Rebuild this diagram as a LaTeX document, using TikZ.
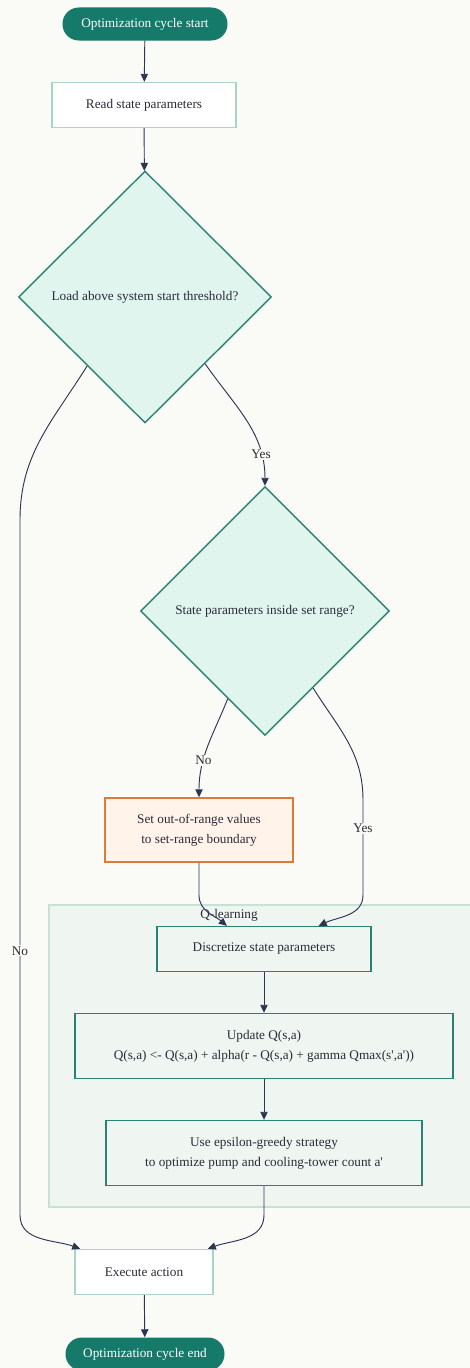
\documentclass[tikz,border=0pt]{standalone}
\usepackage{fontspec}
\setmainfont{Liberation Serif}
\usetikzlibrary{shapes.geometric,arrows.meta}
\definecolor{bgcol}{HTML}{FAFAF6}
\definecolor{pillcol}{HTML}{167A6B}
\definecolor{linecol}{HTML}{2E3552}
\definecolor{txtcol}{HTML}{2B2B38}
\definecolor{tealcol}{HTML}{2A8272}
\definecolor{mintcol}{HTML}{E0F5EE}
\definecolor{palecol}{HTML}{A9D4C6}
\definecolor{orangecol}{HTML}{E07A3A}
\definecolor{peachcol}{HTML}{FFF3EA}
\definecolor{groupcol}{HTML}{EFF5F0}
\definecolor{groupline}{HTML}{C8E0D5}
\newcommand{\tick}{\textquotesingle}
\begin{document}
\begin{tikzpicture}[x=0.3mm,y=0.3mm,
  font=\fontsize{11.3}{17}\selectfont, text=txtcol,
  edge/.style={draw=linecol, line width=0.8pt, -{Triangle[length=2.4mm,width=2.2mm]}},
  lbl/.style={fill=bgcol, inner sep=1pt, text=txtcol},
  pill/.style={rectangle, rounded corners=0.49cm, fill=pillcol, text=white, minimum height=0.99cm},
  plain/.style={rectangle, draw=palecol, fill=white, line width=1.2pt, minimum height=1.35cm},
  task/.style={rectangle, draw=tealcol, fill=groupcol, line width=1.2pt, align=center},
  ask/.style={diamond, draw=tealcol, fill=mintcol, line width=1.2pt, inner sep=0pt}]
\useasboundingbox[fill=bgcol] (0,0) rectangle (470,-1368);

% Q-learning group
\draw[groupline, fill=groupcol, line width=1pt] (49,-905) rectangle (476,-1207);
\node (qlabel) at (229,-915) {Q-learning};

% nodes
\node[pill, minimum width=4.95cm] (start) at (145,-24) {Optimization cycle start};
\node[plain, minimum width=5.52cm] (read) at (144,-105) {Read state parameters};
\node[ask, minimum width=7.59cm, minimum height=7.56cm] (load) at (145,-297) {Load above system start threshold?};
\node[ask, minimum width=7.47cm, minimum height=7.47cm] (range) at (265,-611) {State parameters inside set range?};
\node[rectangle, draw=orangecol, fill=peachcol, line width=1.2pt, align=center,
      minimum width=5.64cm, minimum height=1.92cm] (clamp) at (199,-830)
      {Set out-of-range values\\to set-range boundary};
\node[task, minimum width=6.42cm, minimum height=1.35cm] (disc) at (264,-949) {Discretize state parameters};
\node[task, minimum width=11.34cm, minimum height=1.95cm] (update) at (264,-1046)
      {Update Q(s,a)\\Q(s,a) <- Q(s,a) + alpha(r - Q(s,a) + gamma Qmax(s\tick,a\tick))};
\node[task, minimum width=9.48cm, minimum height=1.95cm] (greedy) at (264,-1153)
      {Use epsilon-greedy strategy\\to optimize pump and cooling-tower count a\tick};
\node[plain, minimum width=4.14cm] (exec) at (144,-1272) {Execute action};
\node[pill, minimum width=4.77cm] (stop) at (145,-1354) {Optimization cycle end};

% connectors
\draw[edge] (start) -- (read);
\draw[edge] (read) -- (load);
\draw[edge] (load.-48) to[out=-55,in=90] node[lbl,pos=0.78]{Yes} (range.north);
\draw[edge] (load.-130) to[out=-122,in=90] (20,-520) -- node[lbl,pos=0.62]{No} (20,-1215)
      to[out=-90,in=160] (exec.160);
\draw[edge] (range.-113) to[out=-112,in=90] node[lbl,pos=0.65]{No} (clamp.north);
\draw[edge] (range.-58) to[out=-58,in=90] (363,-800) -- node[lbl,pos=0.3]{Yes} (363,-895)
      to[out=-90,in=25] (disc.23);
\draw[edge] (clamp.south) -- (199,-895) to[out=-90,in=140] (disc.148);
\draw[edge] (disc) -- (update);
\draw[edge] (update) -- (greedy);
\draw[edge] (greedy.south) -- (264,-1215) to[out=-90,in=20] (exec.20);
\draw[edge] (exec) -- (stop);
\end{tikzpicture}
\end{document}
